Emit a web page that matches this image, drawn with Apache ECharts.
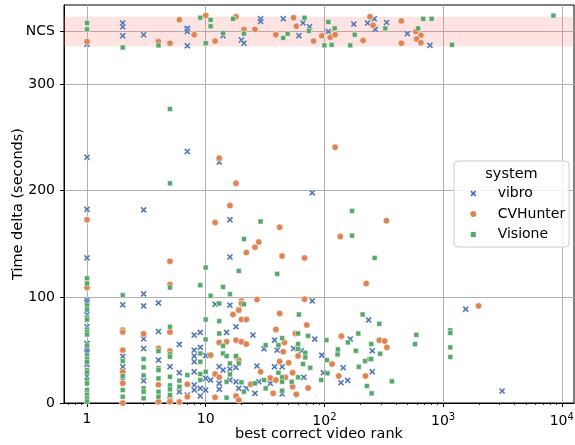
<!DOCTYPE html>
<html><head><meta charset="utf-8">
<script src="https://cdn.jsdelivr.net/npm/echarts@6/dist/echarts.min.js"></script>
<style>html,body{margin:0;padding:0;background:#fff}#c{width:575px;height:445px}</style>
</head><body><div id="c"></div>
<script>
// ---- data: [best correct video rank, time delta seconds]; NCS rows plotted jittered around NCS level ----
const NCS_LEVEL = 350;
const ncsBand = [336, 364];
const yTickValues = [0, 100, 200, 300, 350];
const xTickValues = [1, 10, 100, 1000, 10000];
const xMinorTicks = [0.7,0.8,0.9,2,3,4,5,6,7,8,9,20,30,40,50,60,70,80,90,200,300,400,500,600,700,800,900,2000,3000,4000,5000,6000,7000,8000,9000];
const seriesNames = ['vibro', 'CVHunter', 'Visione'];

const vibroPts = [
 [1,338],[2,358],[2,354.5],[2,346],[3,347],[7,352],[7,336.5],[7,353],[7,350],[14,346],[20,342],[21,339],[29,362],[29,359.5],[45,362],[61,346],[66,358],[75,354.5],[108,350],[177,357],[231,358],[263,362],[268,352],[334,358.5],[500,348],[775,337],
 [1,231.6],[7,237],[13,227],[79,198],[1,182.5],[3,182],[16,172.7],[16,137.6],[1,136.7],
 [1,97],[1,95],[1,83.4],[1,71.8],[1,56.1],[1,50.5],[1,48.3],[1,36.4],[1,25.1],
 [2,92.5],[2,43.9],[2,34.1],[2,21.6],
 [3,102.8],[3,91.5],[3,60.5],[3,51.4],[3,21],
 [4,94.3],[4,67.4],[4,40.4],[5,34.1],[6,55.2],[6,28.5],[6,10.6],[7,7.5],
 [8,64],[8,49.8],[8,44.2],[8,38.8],[8,29.4],[8,17],[8,12.2],
 [9,66.5],[9,52.4],[9,13.8],[9,6.6],[10,44.8],[10,23.2],[10,12.2],
 [11,21.6],[12,93.1],[13,34.1],[13,18.5],[13,12.9],[14,31],[15,66.5],
 [16,92.2],[16,32],[16,21.6],[18,71.8],[18,33.6],[18,20],[19,88],[19,13.8],
 [22,13.8],[25,64],[26,9.1],[27,34.8],[28,20],[31,51],[35,18.5],[38,59.2],[38,34.1],[40,49.8],[44,34.1],[44,8.5],
 [55,51.4],[64,49.2],[67,24.2],[79,96.2],[83,60.2],[95,45.1],[98,28.5],[138,19.1],[144,33.2],[157,21.3],[165,60.2],
 [236,78.3],[253,49.2],[253,29.4],[1550,88.4],[3140,11.3]
];

const cvhunterPts = [
 [1,340.5],[4,340.5],[5,339],[6,361],[8,347],[10,365],[12,341],[18,364],[21,352],[26,352],[39,347],[55,363],[58,355],[81,341],[95,346],[112,344.5],[123,347],[212,341.5],[242,364],[257,356],[445,360],[590,350],[650,346.5],[600,343],[445,339],[650,339.5],
 [123,241],[13,230.7],[18,207],[16,186],[1,172.7],[12,170],[333,171.8],[42,165.5],[136,156.8],[28,151.7],[26,146.7],[22,141.7],[44,138.5],[68,136.7],[5,133.5],[225,112.6],[5,111.6],[1,108.8],
 [2,68.7],[2,66.8],[2,49.8],[2,29.4],[2,18.5],[2,0],[3,65.2],[4,51.4],[4,17.2],[4,1.2],[5,66.8],[5,48.9],[5,5],[5,1.2],[6,1],
 [7,17.6],[7,5.9],[11,45.1],[12,27.3],[12,5.4],[13,57.1],[13,24.2],[15,57.7],[17,83.4],
 [18,59.2],[18,43.5],[18,6.6],[19,87.5],[19,40.4],[19,2.8],[20,96.2],[20,78.7],[20,57.7],[20,93.8],[22,78.7],[22,55.5],
 [24,17.6],[27,97.5],[29,29.4],[35,23.5],[37,9.1],[39,69.3],[39,21.6],[42,84.4],[42,39.2],[45,48.3],[46,57.1],[47,24.2],[50,37.9],
 [54,28.5],[54,15.3],[57,65.5],[58,8.2],[60,44.2],[68,97.8],[71,73.4],[73,14.1],[116,36.7],[132,25.4],[139,63],[222,25.4],
 [290,59.2],[322,58.3],[336,52.4],[1990,91.5]
];

const visionePts = [
 [1,358],[1,352],[2,335],[4,337],[9,363],[11,361],[11,355],[10,339],[14,348.5],[17,362],[21,348],[45,344],[49,348],[68,363],[74,350.5],[100,337],[108,359],[122,353],[115,337.5],[180,347],[165,337],[326,353],[680,362],[800,362],[616,353],[1190,337.5],[8500,365],
 [5,277],[5,207],[171,181],[29,171],[21,154.5],[171,157.7],[265,136.7],[10,127.6],[19,124.4],[40,121.6],[1,117.5],[1,112.6],[9,111],[14,109.4],[5,108.8],
 [1,92],[1,88],[1,80.6],[1,78.7],[1,69.3],[1,67],[1,64.6],[1,54.2],[1,44.8],[1,41.4],[1,38.8],[1,31],[1,28.9],[1,21.6],[1,18.5],[1,12.2],[1,9.1],[1,7.5],[1,4.4],[1,1.5],
 [2,101.6],[2,39.5],[2,25.4],[2,12.2],[2,5.9],
 [3,41.4],[3,33.6],[3,26],[3,13.8],[3,10.6],[3,4.4],
 [4,48.9],[4,32.9],[4,31],[4,23.2],[4,10.6],[4,5.9],
 [5,71.8],[5,46],[5,43.6],[5,24.7],[5,16.6],[5,12.9],[5,7.5],
 [6,21],[6,15.3],[7,26.3],[9,46.7],[9,38.8],[9,27.3],[9,21.6],[10,78.7],[10,59.9],[10,29.4],[11,101],
 [13,93.8],[13,77.1],[13,65.5],[14,53.9],[14,46.7],[15,44.2],[15,20],[15,5],[16,102.5],[16,37.3],[16,27],
 [18,44.2],[19,37.3],[20,19.5],[21,93.1],[21,10.6],[26,18.5],[31,21.6],[32,54.5],[32,13.8],[41,54.5],[41,28.5],
 [44,61.1],[44,24.2],[44,20],[44,11.6],[53,20],[60,65.5],[60,55.5],[60,51],[60,24.2],[61,83.4],[66,36.7],[69,47.3],[69,43],
 [73,63.3],[76,33.2],[94,21.6],[104,59.2],[105,40.4],[106,28],[129,45.8],[130,50.5],[158,57.1],[184,49.2],[193,65.5],[195,34.1],
 [210,83.4],[220,39.5],[228,16],[240,41.4],[248,55.5],[248,41.4],[250,9.1],[290,74.6],[295,46.4],[370,20.4],[580,55.5],[595,64.2],
 [1150,68.4],[1150,66],[1150,52.4],[1150,43.3]
];

// ---- chart ----
const FONT = 'DejaVu Sans';
const X_PATH = 'path://M2,0 L5,3 L8,0 L10,2 L7,5 L10,8 L8,10 L5,7 L2,10 L0,8 L3,5 L0,2 Z';
const COLORS = ['#4c72b0', '#dd8452', '#55a868'];
const chart = echarts.init(document.getElementById('c'), null, {renderer: 'canvas'});
const xMin = 0.64, xMax = 12670, yMin = 0, yMax = 375;

// legend box (drawn as graphic): icons + labels
const LX = 473.3, LT = 497.7, LY = [193.5, 214, 234.5];
function xIcon(cx, cy, s) {
  const p = [[2,0],[5,3],[8,0],[10,2],[7,5],[10,8],[8,10],[5,7],[2,10],[0,8],[3,5],[0,2]];
  return p.map(q => [cx + (q[0] - 5) * s / 10, cy + (q[1] - 5) * s / 10]);
}
const legendGraphics = [
  {type: 'rect', x: 454, y: 161, z: 15, shape: {x: 0, y: 0, width: 115, height: 86, r: 4},
   style: {fill: 'rgba(255,255,255,0.85)', stroke: '#cccccc', lineWidth: 1}},
  {type: 'text', x: 511.5, y: 174, z: 16, style: {text: 'system', font: '14.5px "DejaVu Sans"', fill: '#000', textAlign: 'center', textVerticalAlign: 'middle'}},
  {type: 'polygon', z: 16, shape: {points: xIcon(LX, LY[0], 6)}, style: {fill: COLORS[0]}},
  {type: 'circle', z: 16, shape: {cx: LX, cy: LY[1], r: 3}, style: {fill: COLORS[1]}},
  {type: 'rect', z: 16, shape: {x: LX - 2.5, y: LY[2] - 2.5, width: 5, height: 5}, style: {fill: COLORS[2]}}
].concat(seriesNames.map((n, i) => ({
  type: 'text', x: LT, y: LY[i], z: 16,
  style: {text: n, font: '14px "DejaVu Sans"', fill: '#000', textAlign: 'left', textVerticalAlign: 'middle'}
})));

const option = {
  animation: false,
  textStyle: {fontFamily: FONT, color: '#000'},
  grid: {left: 64, right: 1, top: 5, bottom: 42, show: true, borderColor: '#000', borderWidth: 1, containLabel: false, outerBoundsMode: 'none'},
  graphic: legendGraphics,
  xAxis: [{
    type: 'log', logBase: 10, min: xMin, max: xMax,
    name: 'best correct video rank', nameLocation: 'middle', nameGap: 24, nameMoveOverlap: false,
    nameTextStyle: {fontFamily: FONT, fontSize: 14.5, color: '#000'},
    axisLine: {show: true, lineStyle: {color: '#000', width: 1}},
    axisTick: {show: true, length: 4, customValues: xTickValues, lineStyle: {color: '#000'}},
    axisLabel: {customValues: xTickValues, margin: 9, fontFamily: FONT, fontSize: 14, color: '#000',
      formatter: function (v) {
        if (v < 1.5) return '1';
        if (v < 15) return '10';
        return '10{sup|' + Math.round(Math.log10(v)) + '}';
      },
      rich: {sup: {fontFamily: FONT, fontSize: 10, color: '#000', padding: [0, 0, 8, 0]}}
    },
    splitLine: {show: true, lineStyle: {color: '#b0b0b0', width: 1}}
  }, {
    type: 'log', logBase: 10, min: xMin, max: xMax, position: 'bottom',
    axisLine: {show: false},
    axisTick: {show: true, length: 2, customValues: xMinorTicks, lineStyle: {color: '#000', width: 0.8}},
    axisLabel: {show: false},
    splitLine: {show: false}
  }],
  yAxis: {
    type: 'value', min: yMin, max: yMax,
    name: 'Time delta (seconds)', nameLocation: 'middle', nameGap: 38, nameMoveOverlap: false,
    nameTextStyle: {fontFamily: FONT, fontSize: 14.5, color: '#000'},
    axisLine: {show: true, lineStyle: {color: '#000', width: 1}},
    axisTick: {show: true, length: 4, customValues: yTickValues, lineStyle: {color: '#000'}},
    axisLabel: {customValues: yTickValues, margin: 9, fontFamily: FONT, fontSize: 14, color: '#000',
      formatter: function (v) { return v === NCS_LEVEL ? 'NCS' : String(v); }},
    splitLine: {show: true, lineStyle: {color: '#b0b0b0', width: 1}}
  },
  series: [
    {type: 'scatter', name: '_band', data: [], z: 1, silent: true,
     markArea: {silent: true, itemStyle: {color: 'rgba(250,128,128,0.22)'}, data: [[{yAxis: ncsBand[0]}, {yAxis: ncsBand[1]}]]}},
    {type: 'scatter', name: seriesNames[0], data: vibroPts, symbol: X_PATH, symbolSize: 6.5,
     itemStyle: {color: COLORS[0], borderColor: '#fff', borderWidth: 0.4, opacity: 1}},
    {type: 'scatter', name: seriesNames[1], data: cvhunterPts, symbol: 'circle', symbolSize: 6.5,
     itemStyle: {color: COLORS[1], borderColor: '#fff', borderWidth: 0.6, opacity: 1}},
    {type: 'scatter', name: seriesNames[2], data: visionePts, symbol: 'rect', symbolSize: 5,
     itemStyle: {color: COLORS[2], borderColor: '#fff', borderWidth: 0.5, opacity: 1}}
  ]
};
chart.setOption(option);
</script>
</body></html>
